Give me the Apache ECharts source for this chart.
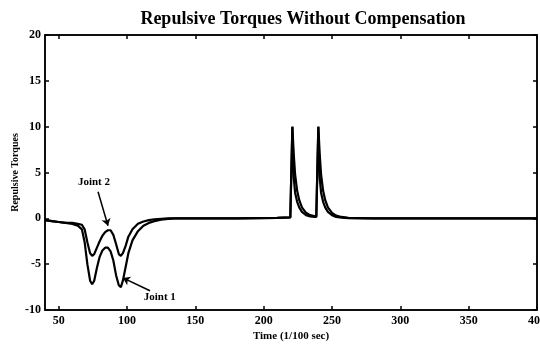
<!DOCTYPE html>
<html>
<head>
<meta charset="utf-8">
<script src="https://cdn.jsdelivr.net/npm/echarts@6/dist/echarts.min.js"></script>
<style>
  html, body { margin: 0; padding: 0; background: #fff; }
  #chart { width: 540px; height: 347px; }
</style>
</head>
<body>
<div id="chart"></div>
<script>
// time samples (1/100 sec) and torques
const timeA = [40, 45, 50, 55, 60, 64, 67, 69, 71, 73, 74.5, 76, 78, 80, 82, 84, 86, 88, 90, 92, 94, 95.5, 97, 99, 101, 104, 108, 112, 116, 120, 125, 130, 135]
const joint1A = [-0.2, -0.3, -0.4, -0.5, -0.6, -0.8, -1.2, -2.6, -5.0, -6.8, -7.2, -6.8, -5.4, -4.2, -3.5, -3.2, -3.2, -3.6, -4.6, -6.2, -7.3, -7.5, -6.8, -5.3, -3.8, -2.4, -1.4, -0.8, -0.5, -0.3, -0.15, -0.05, 0]
const joint2A = [-0.2, -0.3, -0.4, -0.5, -0.5, -0.6, -0.7, -1.2, -2.6, -3.8, -4.1, -3.9, -3.2, -2.5, -1.9, -1.5, -1.3, -1.3, -1.8, -2.8, -3.9, -4.1, -3.8, -3.0, -2.0, -1.2, -0.6, -0.35, -0.2, -0.1, -0.05, 0, 0]

const timeB = [150, 180, 210, 219.5, 221, 222, 223, 224.5, 226, 228, 231, 234, 237, 238.5, 240, 241, 242, 243.5, 245, 247, 250, 253, 257, 262, 280, 320, 360, 400]
const joint1B = [0, 0, 0.05, 0.1, 10, 7.0, 4.8, 3.0, 2.0, 1.2, 0.6, 0.35, 0.25, 0.2, 10, 7.0, 4.8, 3.0, 2.0, 1.2, 0.6, 0.3, 0.15, 0.05, 0, 0, 0, 0]
const joint2B = [0, 0, 0.05, 0.1, 10, 4.5, 2.8, 1.8, 1.2, 0.7, 0.35, 0.2, 0.15, 0.15, 10, 4.5, 2.8, 1.8, 1.2, 0.7, 0.35, 0.15, 0.08, 0.03, 0, 0, 0, 0]

const xTicks = [50, 100, 150, 200, 250, 300, 350, 400]

const time = timeA.concat(timeB)
const joint1 = joint1A.concat(joint1B)
const joint2 = joint2A.concat(joint2B)

const font = '"Liberation Serif", "DejaVu Serif", serif'

const pairs = (xs, ys) => xs.map((x, i) => [x, ys[i]])

const chart = echarts.init(document.getElementById('chart'))

const baseX = {
    type: 'value',
    min: 40,
    max: 400,
    splitLine: { show: false },
    axisLine: { show: true, onZero: false, lineStyle: { color: '#000', width: 1.5 } },
    axisTick: { show: true, inside: true, length: 4, customValues: xTicks, lineStyle: { color: '#000', width: 1.5 } }
}

const baseY = {
    type: 'value',
    min: -10,
    max: 20,
    interval: 5,
    splitLine: { show: false },
    axisLine: { show: true, onZero: false, lineStyle: { color: '#000', width: 1.5 } },
    axisTick: { show: true, inside: true, length: 4, lineStyle: { color: '#000', width: 1.5 } }
}

const option = {
    backgroundColor: '#fff',
    animation: false,
    title: {
        text: 'Repulsive Torques Without Compensation',
        left: 298,
        textAlign: 'center',
        top: 5,
        textStyle: { fontFamily: font, fontWeight: 'bold', fontSize: 18, color: '#000' }
    },
    grid: { left: 45, right: 3, top: 35, bottom: 37, outerBoundsMode: 'none', containLabel: false, show: true, borderColor: '#000', borderWidth: 1.5 },
    xAxis: [
        Object.assign({}, baseX, {
            position: 'bottom',
            name: 'Time (1/100 sec)',
            nameLocation: 'middle',
            nameGap: 21,
            nameMoveOverlap: false,
            nameTextStyle: { fontFamily: font, fontWeight: 'bold', fontSize: 11, color: '#000' },
            axisLabel: { customValues: xTicks, fontFamily: font, fontWeight: 'bold', fontSize: 12, color: '#000', margin: 5 }
        }),
        Object.assign({}, baseX, { position: 'top', axisLabel: { show: false } })
    ],
    yAxis: [
        Object.assign({}, baseY, {
            position: 'left',
            name: 'Repulsive Torques',
            nameLocation: 'middle',
            nameGap: 25,
            nameMoveOverlap: false,
            nameTextStyle: { fontFamily: font, fontWeight: 'bold', fontSize: 10, color: '#000' },
            axisLabel: { fontFamily: font, fontWeight: 'bold', fontSize: 12, color: '#000', margin: 4 }
        }),
        Object.assign({}, baseY, { position: 'right', axisLabel: { show: false } })
    ],
    series: [
        {
            name: 'Joint 1',
            type: 'line',
            data: pairs(time, joint1),
            showSymbol: false,
            lineStyle: { color: '#000', width: 2.2 },
            markLine: {
                silent: true,
                symbol: ['none', 'arrow'],
                symbolSize: 7,
                label: { show: false },
                lineStyle: { color: '#000', width: 1.5, type: 'solid' },
                data: [[{ coord: [116.8, -7.9] }, { coord: [97, -6.5] }]]
            },
            markPoint: {
                silent: true,
                symbol: 'circle',
                symbolSize: 0,
                label: { show: true, formatter: 'Joint 1', fontFamily: font, fontWeight: 'bold', fontSize: 11, color: '#000' },
                data: [{ coord: [124, -8.6] }]
            }
        },
        {
            name: 'Joint 2',
            type: 'line',
            data: pairs(time, joint2),
            showSymbol: false,
            lineStyle: { color: '#000', width: 2.2 },
            markLine: {
                silent: true,
                symbol: ['none', 'arrow'],
                symbolSize: 7,
                label: { show: false },
                lineStyle: { color: '#000', width: 1.5, type: 'solid' },
                data: [[{ coord: [78.8, 2.9] }, { coord: [86.1, -0.8] }]]
            },
            markPoint: {
                silent: true,
                symbol: 'circle',
                symbolSize: 0,
                label: { show: true, formatter: 'Joint 2', fontFamily: font, fontWeight: 'bold', fontSize: 11, color: '#000' },
                data: [{ coord: [75.8, 3.9] }]
            }
        }
    ]
}

chart.setOption(option)
</script>
</body>
</html>
